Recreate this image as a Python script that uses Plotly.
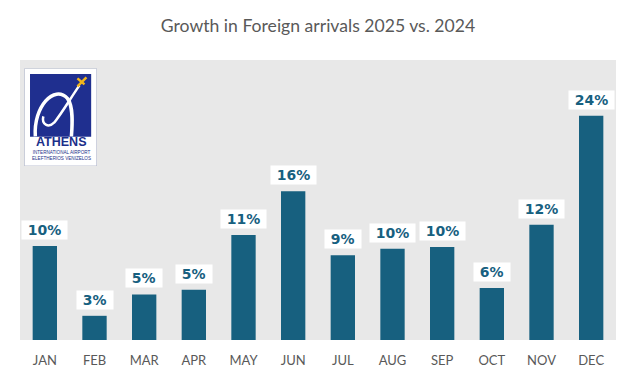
import plotly.graph_objects as go

months = ["JAN", "FEB", "MAR", "APR", "MAY", "JUN", "JUL", "AUG", "SEP", "OCT", "NOV", "DEC"]
growth = [10.1, 2.6, 4.9, 5.4, 11.3, 16.0, 9.1, 9.8, 10.0, 5.6, 12.4, 24.1]

title_text = "Growth in Foreign arrivals 2025 vs. 2024"
bar_color = "#17607f"
bg_gray = "#e8e8e8"
text_gray = "#595959"
cond_font = "Lato"

fig = go.Figure()
fig.add_trace(go.Bar(x=months, y=growth, marker=dict(color=bar_color, line=dict(width=0)),
                     width=0.49, hoverinfo="skip"))

annotations = []
for m, v in zip(months, growth):
    annotations.append(dict(
        x=m, y=v, xref="x", yref="y", yanchor="bottom", yshift=6,
        text="\u00a0" + f"{round(v)}%" + "\u00a0", showarrow=False,
        font=dict(family="DejaVu Sans, Verdana, sans-serif", size=14, color=bar_color, weight="bold"),
        bgcolor="white", borderpad=1,
    ))

# Logo (drawn on a hidden helper axis in pixel-like units)
annotations += [
    dict(x=37, y=73.5, xref="x2", yref="y2", text="<b>ATHENS</b>", showarrow=False,
         font=dict(family="Liberation Sans, Arial, sans-serif", size=12.5, color="#1c2f8a")),
    dict(x=37, y=87.5, xref="x2", yref="y2",
         text="INTERNATIONAL AIRPORT<br>ELEFTHERIOS VENIZELOS", showarrow=False,
         font=dict(family="Liberation Sans, Arial, sans-serif", size=4.6, color="#1c2f8a")),
]

shapes = [
    dict(type="rect", xref="x2", yref="y2", x0=0, x1=72.4, y0=0, y1=97.7,
         fillcolor="white", line=dict(color="#a9b0c6", width=1), layer="above"),
    dict(type="rect", xref="x2", yref="y2", x0=5.7, x1=66.7, y0=5.7, y1=68.4,
         fillcolor="#1f2f8f", line=dict(width=0), layer="above"),
    dict(type="path", xref="x2", yref="y2",
         path="M 11,68 C 9,38 30,16 43,30 C 49,38 48,55 47,68",
         line=dict(color="white", width=3.5), layer="above"),
    dict(type="path", xref="x2", yref="y2",
         path="M 55,17 C 46,30 38,44 30,54 C 24,60 17,56 19,48",
         line=dict(color="white", width=2.5), layer="above"),
    dict(type="path", xref="x2", yref="y2", path="M 53,18 L 62,9",
         line=dict(color="#f2b51c", width=2.5), layer="above"),
    dict(type="path", xref="x2", yref="y2", path="M 53,10 L 60,16",
         line=dict(color="#f2b51c", width=2.5), layer="above"),
]

fig.update_layout(
    width=628, height=374,
    margin=dict(l=12, r=20, t=52, b=42),
    paper_bgcolor="white", plot_bgcolor=bg_gray,
    showlegend=False,
    title=dict(text=title_text, x=(318 - 8) / 628, xanchor="center", y=1 - 18 / 374, yanchor="middle",
               font=dict(family=cond_font, size=17.6, color=text_gray)),
    xaxis=dict(showgrid=False, zeroline=False, showline=False, ticks="outside", ticklen=8,
               tickcolor="rgba(0,0,0,0)",
               tickfont=dict(family=cond_font, size=13, color=text_gray), fixedrange=True),
    yaxis=dict(range=[0, 30.1], showgrid=False, zeroline=False, showticklabels=False,
               ticks="", fixedrange=True),
    xaxis2=dict(domain=[0.0072, 0.129], range=[0, 72.4], visible=False, anchor="y2"),
    yaxis2=dict(domain=[0.621, 0.970], range=[97.7, 0], visible=False, anchor="x2"),
    bargap=0.51,
    annotations=annotations, shapes=shapes,
)

fig.write_html("out.html")
